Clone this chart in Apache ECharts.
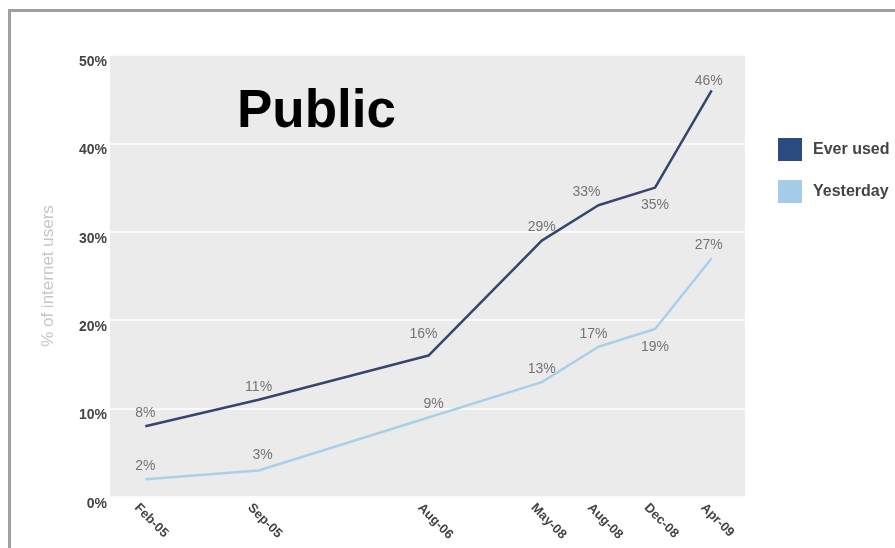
<!DOCTYPE html>
<html>
<head>
<meta charset="utf-8">
<script src="https://cdn.jsdelivr.net/npm/echarts@6/dist/echarts.min.js"></script>
<style>html,body{margin:0;padding:0;background:#fff}#c{width:895px;height:548px}</style>
</head>
<body>
<div id="c"></div>
<script>
// Category slots (empty strings are unlabeled spacer slots on the original axis)
var categories = ['Feb-05', '', 'Sep-05', '', '', 'Aug-06', '', 'May-08', 'Aug-08', 'Dec-08', 'Apr-09'];
var everUsed  = [8, null, 11, null, null, 16, null, 29, 33, 35, 46];
var yesterday = [2, null, 3, null, null, 9, null, 13, 17, 19, 27];
var yTicks = [0, 10, 20, 30, 40, 50];
var seriesNames = ['Ever used', 'Yesterday'];

// label placement tweaks (style only)
var everLabelStyle = {
  'Aug-06': { offset: [-5, -8] },
  'Aug-08': { offset: [-12, 0] },
  'Dec-08': { position: 'bottom', distance: 11 },
  'Apr-09': { offset: [-3, 4] }
};
var yestLabelStyle = {
  'Sep-05': { offset: [4, -2] },
  'Aug-06': { offset: [5, 0] },
  'Aug-08': { offset: [-5, 0] },
  'Dec-08': { position: 'bottom', distance: 11 },
  'Apr-09': { offset: [-3, 0] }
};

function build(values, styles) {
  return values.map(function (v, i) {
    if (v === null) return null;
    var s = styles[categories[i]] || {};
    return {
      value: v,
      label: Object.assign({ position: 'top' }, s)
    };
  });
}

var chart = echarts.init(document.getElementById('c'), null, {renderer: 'canvas'});
var FONT = '"Liberation Sans", Arial, sans-serif';
var yMin = yTicks[0], yMax = yTicks[yTicks.length - 1];
var option = {
  animation: false,
  textStyle: { fontFamily: FONT },
  title: {
    text: 'Public', left: 237, top: 86, padding: 0,
    textStyle: { fontSize: 53, fontWeight: 'bold', color: '#000', fontFamily: FONT }
  },
  graphic: [
    { type: 'rect', z: -10, silent: true,
      shape: { x: 9.5, y: 10.5, width: 900, height: 600 },
      style: { fill: 'none', stroke: '#a0a0a0', lineWidth: 3 } }
  ],
  legend: {
    data: seriesNames, orient: 'vertical', left: 778, top: 138, padding: 0,
    icon: 'rect', itemWidth: 24, itemHeight: 23, itemGap: 19,
    textStyle: { fontSize: 16, fontWeight: 'bold', color: '#444', fontFamily: FONT, padding: [0, 0, 0, 6] }
  },
  grid: [
    { left: 117, right: 155, top: 55, bottom: 51 },
    { left: 110, right: 150, top: 55, bottom: 51, show: true, backgroundColor: '#ebebeb', borderWidth: 0, z: -1 }
  ],
  xAxis: [
    {
      type: 'category', data: categories, boundaryGap: true, gridIndex: 0,
      axisLine: { show: false }, axisTick: { show: false },
      axisLabel: { interval: 0, rotate: -45, fontSize: 13, fontWeight: 'bold', color: '#444',
                   margin: 0, verticalAlign: 'top', padding: [6, 0, 0, 0] }
    },
    { type: 'value', gridIndex: 1, show: false, min: 0, max: 1 }
  ],
  yAxis: [
    { type: 'value', gridIndex: 0, min: yMin, max: yMax, interval: 10, show: false },
    {
      type: 'value', gridIndex: 1, min: yMin, max: yMax, interval: 10,
      name: '% of internet users', nameLocation: 'middle', nameGap: 53,
      nameTextStyle: { color: '#c6c6c6', fontSize: 17 },
      axisLine: { show: false }, axisTick: { show: false },
      axisLabel: { formatter: '{value}%', fontSize: 14, fontWeight: 'bold', color: '#444', margin: 3, verticalAlign: 'top' },
      splitLine: { lineStyle: { color: '#ffffff', width: 1.5 } }
    }
  ],
  series: [
    {
      name: seriesNames[0], type: 'line', data: build(everUsed, everLabelStyle), connectNulls: true,
      xAxisIndex: 0, yAxisIndex: 0,
      symbol: 'circle', symbolSize: 0,
      lineStyle: { color: '#34466e', width: 2.5 },
      itemStyle: { color: '#2b4a80' },
      label: { show: true, formatter: '{c}%', fontSize: 14, color: '#747474', distance: 6 }
    },
    {
      name: seriesNames[1], type: 'line', data: build(yesterday, yestLabelStyle), connectNulls: true,
      xAxisIndex: 0, yAxisIndex: 0,
      symbol: 'circle', symbolSize: 0,
      lineStyle: { color: '#aad0e9', width: 2.5 },
      itemStyle: { color: '#a5cdea' },
      label: { show: true, formatter: '{c}%', fontSize: 14, color: '#747474', distance: 6 }
    }
  ]
};
chart.setOption(option);
</script>
</body>
</html>
